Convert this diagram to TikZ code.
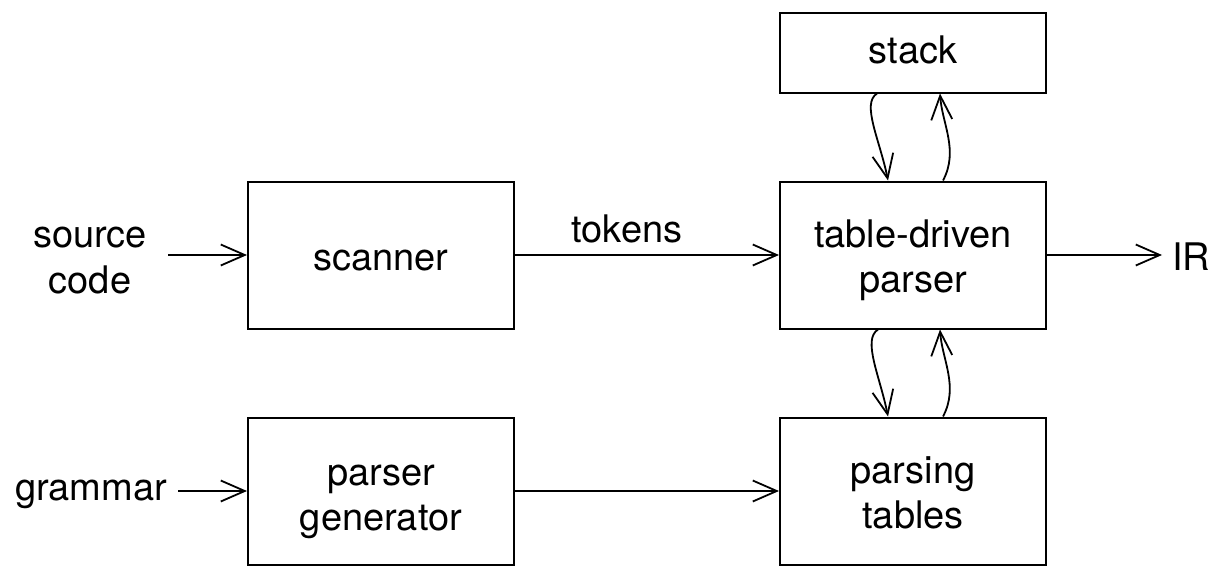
\documentclass[tikz,border=0pt]{standalone}
\usepackage{fontspec}
\setmainfont{TeX Gyre Heros}
\usetikzlibrary{arrows.meta,calc}
\begin{document}
\begin{tikzpicture}[x=1pt,y=-1pt,
  box/.style={draw,line width=2pt,minimum width=266pt,minimum height=147pt,inner sep=0pt},
  lbl/.style={inner sep=0pt,anchor=base,font=\fontsize{38}{44}\selectfont},
  arr/.style={line width=1.8pt,-{Straight Barb[length=24pt,width=21pt,line width=1.8pt]}}]
\useasboundingbox (0,0) rectangle (1222,570);
% boxes
\node[box,minimum height=80pt] (stack) at (913,52.5) {};
\node[box] (parser) at (913,255) {};
\node[box] (scanner) at (381,255) {};
\node[box] (gen) at (381,491) {};
\node[box] (tables) at (913,491) {};
% box texts
\node[lbl] (tstack) at (913,63) {stack};
\node[lbl] (tpar1) at (913,247) {table-driven};
\node[lbl] (tpar2) at (913,292) {parser};
\node[lbl] (tscan) at (381,270) {scanner};
\node[lbl] (tgen1) at (381,485) {parser};
\node[lbl] (tgen2) at (381,530) {generator};
\node[lbl] (ttab1) at (913,483) {parsing};
\node[lbl] (ttab2) at (913,528) {tables};
% free labels
\node[lbl] (src1) at (90,247) {source};
\node[lbl] (src2) at (90,293) {code};
\node[lbl] (gram) at (91,500) {grammar};
\node[lbl,anchor=base west] (ir) at (1172,270) {IR};
\node[lbl] (tok) at (627,242) {tokens};
\coordinate (srcout) at (168,255);
\coordinate (gramout) at (178,491);
% straight connectors
\draw[arr] (srcout) -- (scanner.west);
\draw[arr] (gramout) -- (gen.west);
\draw[arr] (scanner.east) -- (parser.west);
\draw[arr] (gen.east) -- (tables.west);
\draw[arr,shorten >=10pt] (parser.east) -- (ir.west|-parser.east);
% stack <-> parser
\draw[arr] ([xshift=-36pt]stack.south) .. controls +(-16,10) and +(-8,-40) .. ([xshift=-25pt]parser.north);
\draw[arr] ([xshift=30pt]parser.north) .. controls +(16,-30) and +(2,30) .. ([xshift=27pt]stack.south);
% parser <-> tables
\draw[arr] ([xshift=-35pt]parser.south) .. controls +(-16,10) and +(-8,-40) .. ([xshift=-25pt]tables.north);
\draw[arr] ([xshift=30pt]tables.north) .. controls +(16,-30) and +(2,30) .. ([xshift=27pt]parser.south);
\end{tikzpicture}
\end{document}
